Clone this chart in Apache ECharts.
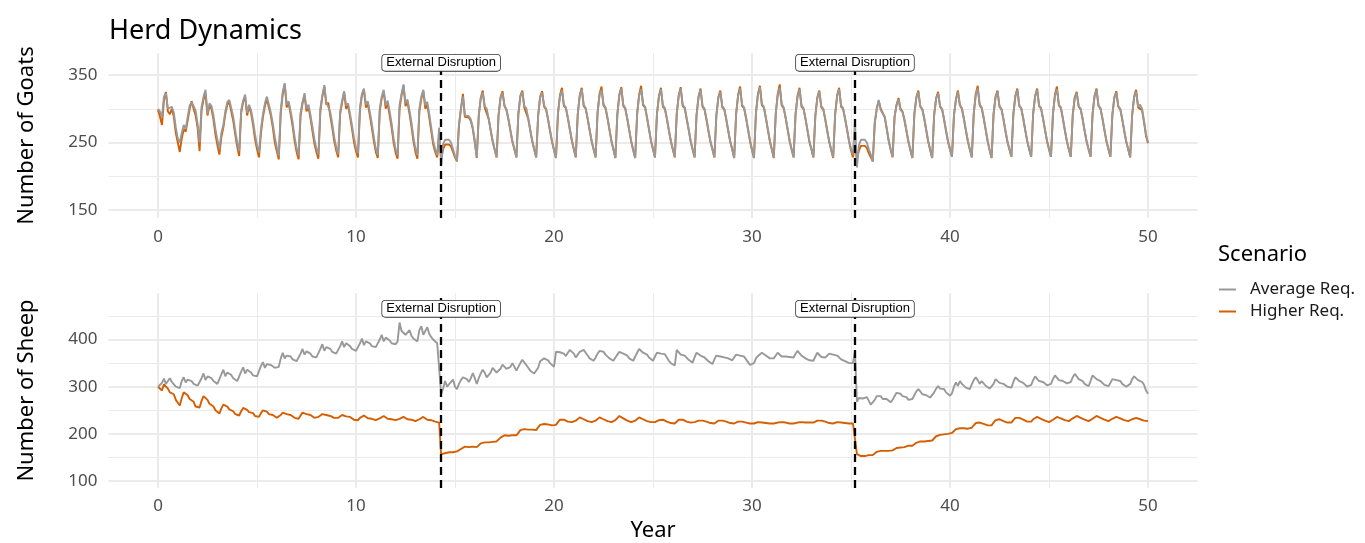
<!DOCTYPE html>
<html><head><meta charset="utf-8">
<script src="https://cdn.jsdelivr.net/npm/echarts@6/dist/echarts.min.js"></script>
<style>html,body{margin:0;padding:0;background:#fff}#c{width:1365px;height:543px}</style>
</head><body><div id="c"></div>
<script>
// time step of the series (years)
const STEP = 0.1;
const scenarios = ['Average Req.', 'Higher Req.'];
const disruptions = [14.3, 35.2];
const xTicks = [0, 10, 20, 30, 40, 50];
const xMinor = [5, 15, 25, 35, 45];
const goatTicks = [150, 250, 350];
const goatMinor = [200, 300];
const sheepTicks = [100, 200, 300, 400];
const sheepMinor = [150, 250, 350, 450];

// Goats, Average Req. (t = 0.0 .. 50.0 by 0.1)
const goatsAvg = [
300,296,287,318,323,300,298,303,294,272,
256,250,264,276,270,288,305,309,304,297,
278,250,303,318,328,293,308,304,290,270,
254,240,264,276,296,310,313,301,288,268,
250,237,298,312,321,294,306,298,282,262,
246,235,270,292,308,318,306,294,278,258,
243,230,298,325,338,306,311,296,280,258,
242,231,294,310,323,300,306,291,273,255,
241,232,300,320,335,310,312,295,278,258,
243,233,296,312,326,305,308,292,275,256,
242,234,302,322,330,306,311,295,278,258,
241,231,300,318,328,305,312,296,278,256,
240,231,305,322,336,308,314,298,280,258,
241,231,300,318,328,305,310,292,272,252,
240,231,272,216,248,254,255,254,250,240,
230,223,278,300,318,290,292,289,284,272,
252,228,290,315,324,304,300,286,269,253,
240,228,291,316,323,305,299,285,268,252,
240,228,292,318,325,304,301,286,269,253,
240,228,290,317,324,305,300,285,268,252,
239,227,293,318,327,306,302,287,270,254,
240,228,292,319,329,306,301,286,269,253,
240,228,294,320,328,307,302,287,270,253,
240,227,292,320,330,306,301,286,269,252,
239,227,293,319,329,307,303,287,270,253,
240,228,292,318,329,305,301,286,269,253,
240,228,293,319,330,306,302,286,270,253,
240,228,291,317,328,305,300,285,268,252,
240,228,290,316,325,304,300,285,268,252,
240,227,293,319,330,306,302,287,270,253,
239,227,294,321,332,307,303,287,270,253,
240,227,293,320,331,307,302,287,270,253,
240,228,292,318,329,305,301,286,269,252,
240,228,290,316,325,304,300,285,268,252,
239,228,292,318,329,305,301,286,270,253,
240,232,281,213,246,254,255,254,250,240,
232,222,280,300,313,298,296,288,272,254,
240,229,288,305,314,298,295,284,268,252,
239,227,292,316,325,304,300,286,269,252,
239,227,291,315,323,304,300,285,268,252,
240,229,290,313,325,306,301,286,269,253,
240,228,293,320,330,307,302,287,270,253,
239,227,292,317,325,304,300,285,268,252,
240,229,292,318,328,305,301,286,269,253,
240,229,293,318,328,305,301,286,269,253,
240,229,292,319,329,306,302,286,269,253,
240,229,291,316,323,304,300,285,268,252,
240,229,292,318,328,305,301,286,269,253,
240,229,291,316,324,304,300,285,268,252,
240,228,291,317,325,303,306,300,282,262,
250];

// Goats, Higher Req.
const goatsHigh = [
298,288,276,312,325,296,292,300,288,264,
250,236,256,270,266,283,300,311,300,290,
272,237,298,314,322,290,304,300,284,262,
246,232,258,272,292,306,310,296,282,262,
244,230,294,310,318,290,303,294,276,255,
240,228,264,288,304,314,302,290,272,250,
237,225,294,322,336,302,308,292,274,252,
236,225,290,308,320,296,302,286,267,248,
236,226,296,318,333,306,309,290,272,252,
238,228,292,310,324,300,305,288,270,250,
237,228,298,320,328,302,307,290,272,252,
236,227,296,316,326,300,308,290,272,250,
235,226,300,320,334,304,310,293,274,252,
236,226,296,315,326,300,306,287,267,247,
236,228,262,226,240,247,248,247,244,236,
228,222,274,300,322,288,290,287,282,270,
250,227,290,316,327,302,300,285,268,252,
240,228,290,317,326,304,298,284,267,251,
240,228,292,319,327,302,300,285,268,252,
240,228,290,318,326,303,299,284,267,251,
239,227,293,320,331,304,301,286,269,253,
240,228,292,320,331,304,300,285,268,252,
240,228,294,322,333,305,301,286,269,252,
240,227,292,321,332,304,300,285,268,251,
239,227,293,321,334,305,302,286,269,252,
240,228,292,319,331,303,300,285,268,252,
240,228,293,320,332,304,301,285,269,252,
240,228,291,318,330,303,299,284,267,251,
240,228,290,317,327,302,299,284,267,251,
240,227,293,321,333,304,301,286,269,252,
239,227,294,322,334,305,302,286,269,252,
240,227,293,322,336,305,301,286,269,252,
240,228,292,319,331,303,300,285,268,251,
240,228,290,317,327,302,299,284,267,251,
239,227,292,320,331,303,300,285,269,252,
238,228,244,226,238,245,246,245,242,234,
228,222,278,300,312,300,298,288,271,253,
240,228,288,306,316,300,296,283,267,251,
239,227,292,317,327,303,299,285,268,251,
239,227,291,316,325,303,299,284,267,251,
240,229,290,314,327,305,300,285,268,252,
240,228,293,322,334,305,301,286,269,252,
239,227,292,318,327,303,299,284,267,251,
240,229,292,319,330,304,300,285,268,252,
240,229,293,319,330,304,300,285,268,252,
240,229,292,321,333,305,301,285,268,252,
240,229,291,317,325,303,299,284,267,251,
240,229,292,319,330,304,300,285,268,252,
240,229,291,317,326,303,299,284,267,251,
240,228,291,318,328,302,304,298,280,260,
249];

// Sheep, Average Req.
const sheepAvg = [
300,302,308,317,306,312,318,310,305,300,
298,297,312,320,309,315,318,312,306,302,
302,300,318,328,314,322,325,318,312,308,
306,304,326,336,322,330,332,325,318,314,
312,312,332,341,328,336,338,330,324,320,
322,326,344,352,340,348,352,346,342,340,
344,342,360,372,360,366,370,364,358,355,
354,352,370,380,368,375,378,370,364,360,
362,360,380,390,376,384,388,380,374,370,
370,368,386,396,384,392,394,386,380,376,
376,374,392,402,388,396,400,392,386,382,
384,382,400,410,396,404,406,398,392,388,
390,396,436,418,422,410,414,420,408,402,
398,396,420,428,410,418,426,412,405,400,
396,392,395,284,296,312,300,302,310,315,
300,295,306,314,320,322,316,310,318,329,
318,306,318,328,336,330,320,317,330,340,
336,330,328,338,347,344,338,334,342,350,
342,334,342,350,357,354,346,340,334,330,
328,328,340,354,357,360,362,356,350,346,
342,374,376,373,372,370,365,372,378,378,
370,362,368,374,378,378,372,366,360,356,
355,362,370,376,379,374,368,364,360,356,
355,362,368,374,376,370,372,366,360,357,
355,364,372,380,377,372,375,368,362,358,
355,364,372,376,370,366,369,362,355,350,
347,345,378,374,368,372,366,362,357,353,
351,362,372,370,366,368,362,358,354,350,
348,358,366,369,364,366,362,358,360,356,
356,360,368,372,366,362,364,358,352,346,
342,350,360,365,368,372,370,366,362,360,
358,360,366,372,368,364,366,364,362,363,
362,362,370,376,372,366,362,360,358,356,
356,355,364,372,368,363,366,362,366,370,
366,368,372,366,362,358,356,354,352,350,
348,350,376,268,276,279,275,271,278,270,
262,264,272,280,284,280,274,278,274,270,
267,272,280,287,291,285,280,284,278,272,
268,274,282,290,295,290,284,288,282,278,
277,280,288,296,301,296,292,295,288,284,
281,286,300,309,302,312,306,302,298,296,
295,305,314,320,314,306,312,308,302,298,
296,295,306,316,312,308,310,306,302,300,
298,298,310,320,316,312,314,308,304,300,
298,304,314,322,318,312,314,310,306,303,
301,306,316,324,320,314,317,312,309,307,
306,310,320,327,322,316,318,312,306,302,
301,312,324,320,316,318,312,308,304,302,
301,308,316,320,314,310,312,306,302,300,
298,306,316,322,318,314,316,310,304,292,
285];

// Sheep, Higher Req.
const sheepHigh = [
300,296,292,305,309,296,288,292,284,272,
266,260,276,288,292,282,274,278,268,258,
254,256,270,280,283,272,264,266,258,250,
246,243,254,262,264,258,252,254,248,242,
240,239,248,255,257,251,246,248,244,238,
237,236,244,250,252,247,242,244,240,236,
234,232,240,245,246,242,238,240,237,234,
233,232,239,245,246,242,238,240,237,234,
236,236,238,242,243,240,236,238,236,234,
234,234,237,240,240,237,234,236,233,230,
229,229,234,238,239,236,233,235,232,230,
229,229,233,237,238,235,232,234,231,229,
229,229,232,235,236,233,231,232,230,228,
227,227,231,235,236,233,230,232,229,227,
226,225,224,157,158,159,160,161,162,161,
162,163,164,168,172,173,171,172,174,173,
173,172,176,180,183,182,180,182,184,183,
183,184,188,192,195,197,195,196,198,197,
197,197,202,208,211,210,208,209,210,209,
208,208,214,219,222,221,219,220,219,218,
218,219,225,230,232,230,228,226,226,225,
226,228,232,235,234,231,229,227,226,225,
226,228,232,235,234,231,229,227,226,225,
226,229,233,238,237,233,230,228,226,225,
225,228,232,235,234,231,229,227,226,225,
225,225,226,229,232,230,228,226,224,223,
223,222,226,230,232,230,228,226,225,224,
224,225,226,228,229,228,227,226,224,223,
222,222,225,228,229,228,227,226,224,223,
222,222,224,226,227,226,225,224,223,222,
222,222,223,225,225,224,224,223,222,222,
222,222,223,224,225,225,224,224,223,222,
222,222,223,224,225,225,224,224,224,224,
224,224,226,228,229,228,227,226,224,223,
222,222,224,225,225,224,224,223,223,222,
222,222,222,157,154,153,152,153,154,155,
155,155,158,162,164,164,163,164,165,164,
164,165,168,170,171,171,170,172,174,175,
175,175,178,181,183,184,183,184,185,185,
185,186,190,195,197,198,197,199,200,200,
200,202,206,210,211,212,211,212,212,211,
212,213,218,223,225,224,222,221,220,218,
217,218,224,229,232,231,229,227,225,224,
223,224,229,234,236,234,232,230,228,226,
225,226,231,235,236,234,232,230,228,226,
225,226,230,234,236,235,233,231,229,227,
227,228,233,237,238,236,234,232,230,228,
227,228,232,236,238,236,234,232,230,228,
227,228,232,235,236,235,233,231,229,228,
227,228,231,234,234,233,231,230,228,227,
227];

const GRAY = '#999999', ORANGE = '#D55E00';
const FONT = 'Noto Sans';
const pairs = arr => arr.map((v, i) => [Math.round(i * STEP * 10) / 10, v]);

const X_MIN = -2.5, X_MAX = 52.5;
const gridLeft = 108.5, gridWidth = 1089;
const GRID_COLOR = '#EBEBEB';

function xAxes(gridIndex, withName, margin) {
  return [{
    type: 'value', gridIndex, min: X_MIN, max: X_MAX,
    axisLine: {show: false}, axisTick: {show: false, customValues: xTicks},
    axisLabel: {customValues: xTicks, color: '#4D4D4D', fontSize: 17, fontFamily: FONT, margin},
    splitLine: {show: true, lineStyle: {color: GRID_COLOR, width: 2}},
    name: withName ? 'Year' : '', nameLocation: 'middle', nameGap: 32,
    nameTextStyle: {fontSize: 22, color: '#000', fontFamily: FONT}
  }, {
    type: 'value', gridIndex, min: X_MIN, max: X_MAX,
    axisLine: {show: false}, axisTick: {show: false, customValues: xMinor},
    axisLabel: {show: false},
    splitLine: {show: true, lineStyle: {color: GRID_COLOR, width: 1}}
  }];
}
function yAxes(gridIndex, min, max, ticks, minor, name) {
  return [{
    type: 'value', gridIndex, min, max,
    axisLine: {show: false}, axisTick: {show: false, customValues: ticks},
    axisLabel: {customValues: ticks, color: '#4D4D4D', fontSize: 17, fontFamily: FONT, margin: 11},
    splitLine: {show: true, lineStyle: {color: GRID_COLOR, width: 2}},
    name, nameLocation: 'middle', nameGap: 71,
    nameTextStyle: {fontSize: 22, color: '#000', fontFamily: FONT}
  }, {
    type: 'value', gridIndex, min, max,
    axisLine: {show: false}, axisTick: {show: false, customValues: minor},
    axisLabel: {show: false},
    splitLine: {show: true, lineStyle: {color: GRID_COLOR, width: 1}}
  }];
}

function lineSeries(name, data, color, xi, yi, z) {
  return {
    type: 'line', name, data: pairs(data), xAxisIndex: xi, yAxisIndex: yi,
    showSymbol: false, symbol: 'none', z, color,
    itemStyle: {color}, lineStyle: {color, width: 1.9}, silent: true, animation: false
  };
}
function disruptionSeries(xi, yi, labelY) {
  return {
    type: 'line', name: 'disruption', data: [], xAxisIndex: xi, yAxisIndex: yi, z: 10,
    silent: true, animation: false,
    markLine: {
      symbol: ['none', 'none'], silent: true, animation: false,
      lineStyle: {color: '#000', type: [8, 5], width: 2.3},
      label: {show: false},
      data: disruptions.map(d => ({xAxis: d}))
    },
    markPoint: {
      symbol: 'rect', symbolSize: 0, silent: true, animation: false,
      label: {
        show: true, position: 'inside', formatter: 'External Disruption',
        fontFamily: 'Liberation Sans', fontSize: 13, color: '#000',
        backgroundColor: '#fff', borderColor: '#333', borderWidth: 0.8, borderRadius: 3,
        padding: [2, 4, 1, 4]
      },
      data: disruptions.map(d => ({coord: [d, labelY], value: 0}))
    }
  };
}

const chart = echarts.init(document.getElementById('c'), null, {renderer: 'canvas'});
chart.setOption({
  animation: false,
  backgroundColor: '#fff',
  grid: [
    {left: gridLeft, width: gridWidth, top: 53, height: 165, containLabel: false},
    {left: gridLeft, width: gridWidth, top: 293, height: 197, containLabel: false}
  ],
  xAxis: [...xAxes(0, false, 11), ...xAxes(1, true, 10)],
  yAxis: [
    ...yAxes(0, 138.15, 382.6, goatTicks, goatMinor, 'Number of Goats'),
    ...yAxes(1, 85.3, 498.6, sheepTicks, sheepMinor, 'Number of Sheep')
  ],
  legend: {
    data: scenarios, orient: 'vertical', left: 1219, top: 281, padding: 0,
    itemWidth: 17, itemHeight: 2, icon: 'rect', itemGap: 5,
    textStyle: {fontSize: 17, color: '#1a1a1a', fontFamily: FONT, padding: [0, 0, 0, 9]}
  },
  graphic: [
    {type: 'text', left: 109, top: 18, silent: true,
     style: {text: 'Herd Dynamics', fontSize: 27, fontFamily: FONT, fill: '#000'}},
    {type: 'text', left: 1218, top: 244, silent: true,
     style: {text: 'Scenario', fontSize: 22, fontFamily: FONT, fill: '#000'}}
  ],
  series: [
    lineSeries(scenarios[1], goatsHigh, ORANGE, 0, 0, 2),
    lineSeries(scenarios[0], goatsAvg, GRAY, 0, 0, 3),
    disruptionSeries(0, 0, 368),
    lineSeries(scenarios[0], sheepAvg, GRAY, 2, 2, 3),
    lineSeries(scenarios[1], sheepHigh, ORANGE, 2, 2, 2),
    disruptionSeries(2, 2, 465)
  ]
});
</script></body></html>
